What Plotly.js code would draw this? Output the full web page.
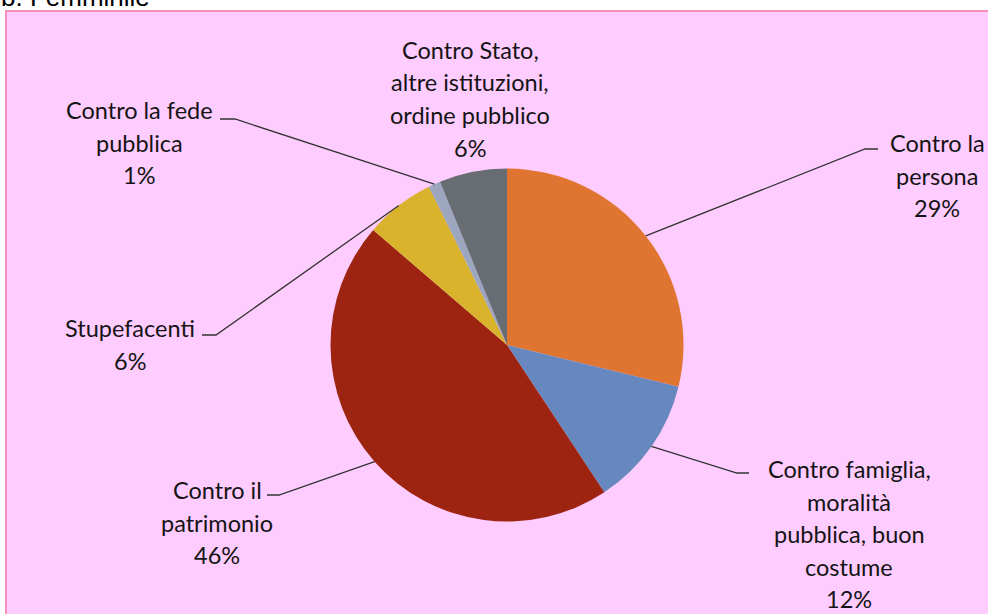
<!DOCTYPE html>
<html><head><meta charset="utf-8">
<script src="https://cdn.plot.ly/plotly-3.0.1.min.js"></script>
<style>html,body{margin:0;padding:0;background:#fff;overflow:hidden}</style>
</head><body><div id="chart" style="width:988px;height:614px"></div>
<script>
// ---- data ----
const categories = [
  "Contro la\npersona",
  "Contro famiglia,\nmoralità\npubblica, buon\ncostume",
  "Contro il\npatrimonio",
  "Stupefacenti",
  "Contro la fede\npubblica",
  "Contro Stato,\naltre istituzioni,\nordine pubblico"
];
const values = [28.8, 11.9, 45.6, 6.4, 1.1, 6.2];
const colors = ["#E07531", "#6788BE", "#9E2412", "#D9B32C", "#9CA6BF", "#686D74"];
const titleText = "b. Femminile";

// ---- layout helpers (pixel positions of labels / leaders) ----
const W = 988, H = 614;
const cx = 507, cy = 345, R = 176.5;
const labelPos = [[937,143],[849,469],[217,490],[130,328],[139,110],[470,50]];
const lineGap = 32.5;
const leaders = [
  [[865,149],[878,149]],
  [[737,473],[749,473]],
  [[279,495],[267,495]],
  [[216,335],[202,335]],
  [[235,119],[220,119]],
  null
];
const px = x => x / W, py = y => 1 - y / H;

const total = values.reduce((a,b)=>a+b,0);
const annotations = [];
const shapes = [{
  type:"rect", xref:"paper", yref:"paper", layer:"below",
  x0:px(6), x1:px(1000), y0:py(630), y1:py(11),
  fillcolor:"#FFCCFF", line:{color:"#F590BA", width:2}
}];
let cum = 0;
categories.forEach((cat,i)=>{
  const pct = Math.round(values[i]/total*100) + "%";
  const lines = cat.split("\n").concat([pct]);
  lines.forEach((t,k)=>{
    annotations.push({
      xref:"paper", yref:"paper", x:px(labelPos[i][0]), y:py(labelPos[i][1] + k*lineGap),
      xanchor:"center", yanchor:"middle", showarrow:false, text:t,
      font:{family:"Lato, 'Open Sans', sans-serif", size:23.5, color:"#141414"}
    });
  });
  const mid = (cum + values[i]/2) / total * 2 * Math.PI;
  cum += values[i];
  if (leaders[i]) {
    const tx = cx + R*Math.sin(mid), ty = cy - R*Math.cos(mid);
    const pts = [[tx,ty]].concat(leaders[i]);
    const path = pts.map((p,j)=>(j?"L":"M")+px(p[0]).toFixed(5)+","+py(p[1]).toFixed(5)).join(" ");
    shapes.push({type:"path", xref:"paper", yref:"paper", path:path, line:{color:"#333333", width:1.3}});
  }
});
annotations.push({
  xref:"paper", yref:"paper", x:px(-1), y:py(13.5), xanchor:"left", yanchor:"bottom",
  showarrow:false, text:titleText,
  font:{family:"'Liberation Sans', Arial, sans-serif", size:26, color:"#000"}
});

const trace = {
  type:"pie", labels:categories.map(c=>c.replace(/\n/g," ")), values:values,
  sort:false, direction:"clockwise", rotation:0,
  marker:{colors:colors, line:{width:0}},
  textinfo:"none", hoverinfo:"skip",
  domain:{x:[px(cx-R), px(cx+R)], y:[py(cy+R), py(cy-R)]},
  showlegend:false
};
const layout = {
  width:W, height:H, margin:{l:0,r:0,t:0,b:0},
  paper_bgcolor:"#FFFFFF", plot_bgcolor:"rgba(0,0,0,0)",
  showlegend:false, annotations:annotations, shapes:shapes
};
Plotly.newPlot("chart", [trace], layout, {displayModeBar:false, staticPlot:true});
</script>
</body></html>
